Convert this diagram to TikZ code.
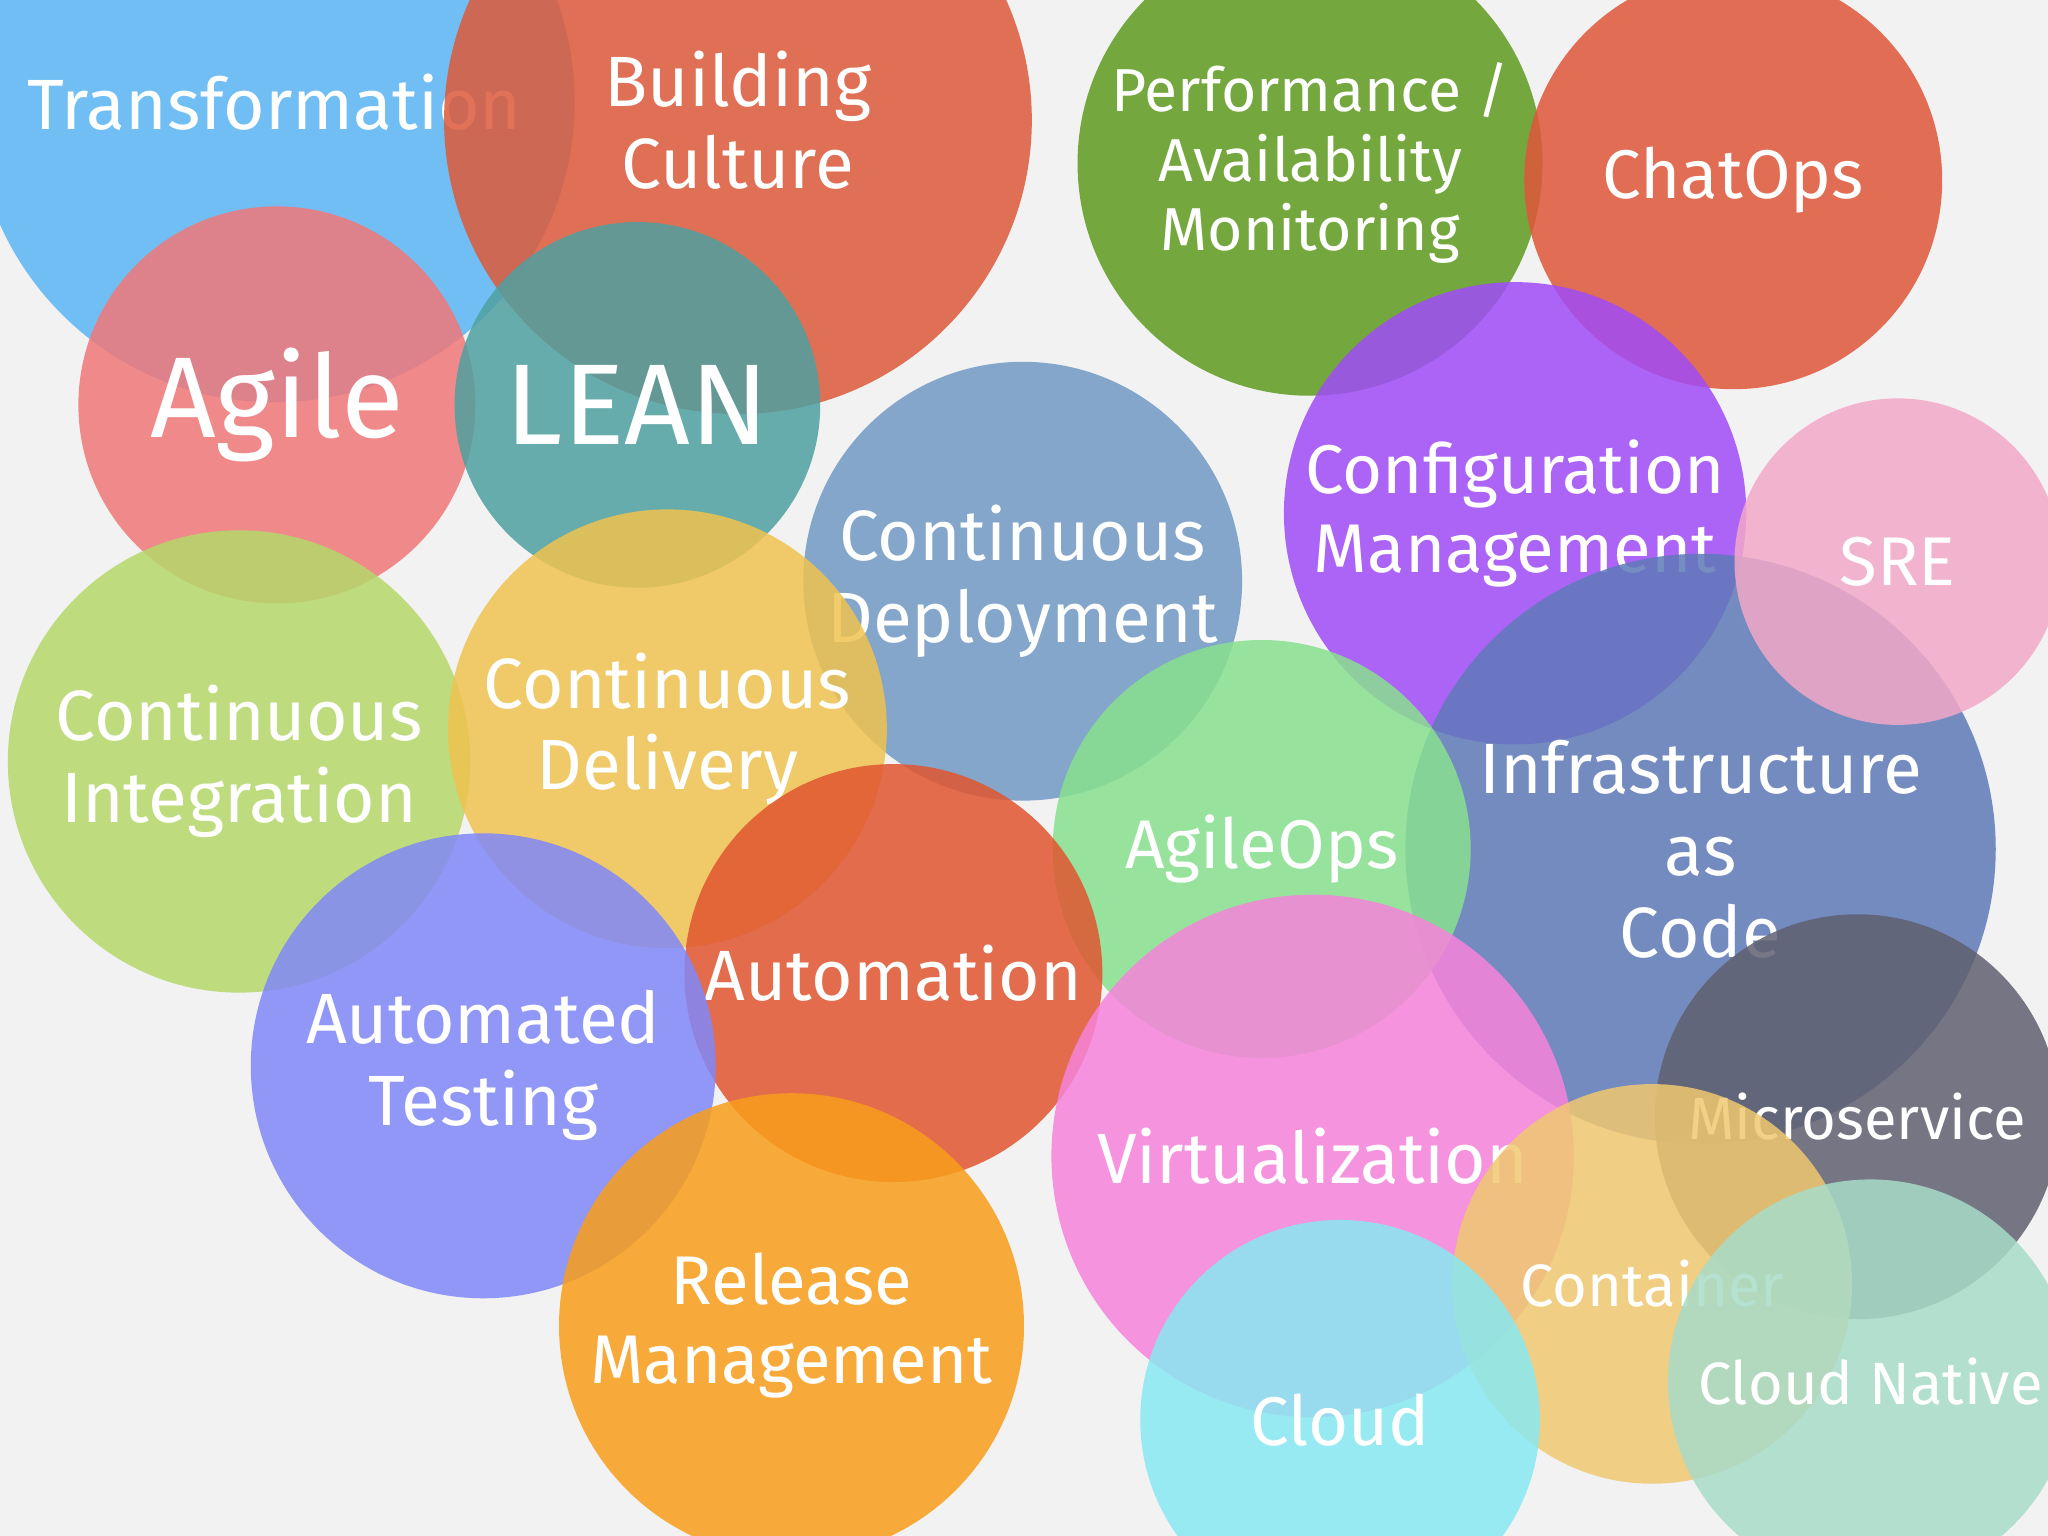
\documentclass[tikz,border=0pt]{standalone}
\usepackage{fontspec}
\setmainfont{Fira Sans}
\definecolor{bg}{HTML}{F2F2F2}
\tikzset{
  lab/.style={text=white,align=center,font=\fontsize{#1pt}{\dimexpr #1pt*115/100\relax}\selectfont},
}
\newcommand{\bubble}[7]{%
  \definecolor{bc#1}{HTML}{#4}%
  \fill[bc#1,opacity=0.85] (#2,-#3) circle (#5);
  \node[lab=#6] (#1) at (#2,-#3) {#7};}
\begin{document}
\begin{tikzpicture}[x=0.01cm,y=0.01cm]
\useasboundingbox (0,0) rectangle (1568,-1176);
\fill[bg] (0,0) rectangle (1568,-1176);
\begin{scope}
\clip (0,0) rectangle (1568,-1176);
\bubble{tr}{210}{78}{5BB6F5}{230}{15.5}{Transformation}
\bubble{bc}{565}{92}{DE5A3A}{225}{15.5}{Building\\Culture}
\bubble{ag}{212}{310}{F07878}{152}{25}{Agile}
\bubble{le}{488}{310}{4FA0A0}{140}{25}{LEAN}
\bubble{pe}{1003}{125}{5E9A1E}{178}{13.2}{Performance /\\Availability\\Monitoring}
\bubble{ch}{1327}{138}{E0563A}{160}{15}{ChatOps}
\bubble{cdp}{783}{445}{7199C4}{168}{15.5}{Continuous\\Deployment}
\bubble{cm}{1160}{393}{A04CF8}{177}{15}{Configuration\\Management}
\bubble{iac}{1302}{650}{5F7AB8}{226}{15.5}{Infrastructure\\as\\Code}
\bubble{sre}{1453}{430}{F2A8C8}{125}{15}{SRE}
\bubble{ms}{1422}{855}{606070}{155}{13}{Microservice}
\bubble{ci}{183}{583}{B5D86A}{177}{15.5}{Continuous\\Integration}
\bubble{cd}{511}{558}{F0C350}{168}{15.5}{Continuous\\Delivery}
\bubble{ao}{966}{650}{88E08F}{160}{15}{AgileOps}
\bubble{au}{684}{745}{E05530}{160}{15.5}{Automation}
\bubble{at}{370}{816}{8088F8}{178}{15.5}{Automated\\Testing}
\bubble{rm}{606}{1015}{F89E1A}{178}{15}{Release\\Management}
\bubble{vi}{1005}{885}{F783DB}{200}{15.5}{Virtualization}
\bubble{co}{1265}{983}{F0C870}{153}{13}{Container}
\bubble{cl}{1026}{1087}{88E8F2}{153}{15}{Cloud}
\bubble{cn}{1432}{1058}{A8DCC8}{155}{13}{Cloud Native}
\end{scope}
\end{tikzpicture}
\end{document}
